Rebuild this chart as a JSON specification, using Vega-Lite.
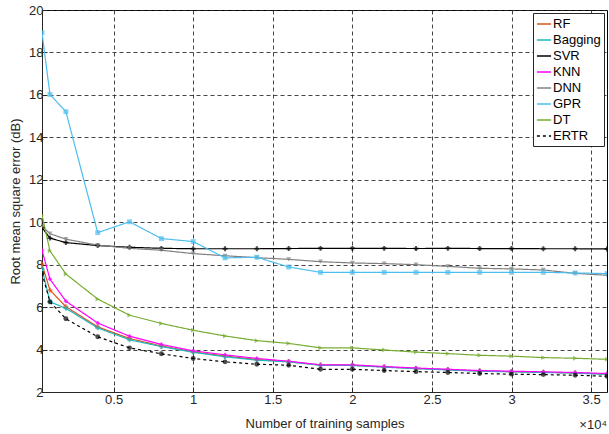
{
  "$schema": "https://vega.github.io/schema/vega-lite/v6.json",
  "width": 565,
  "height": 382,
  "autosize": {"type": "none"},
  "padding": {"left": 42, "top": 10, "right": 2, "bottom": 42},
  "background": "white",
  "config": {
    "font": "Liberation Sans",
    "view": {"stroke": "#000", "strokeWidth": 1},
    "axis": {
      "labelFont": "Liberation Sans",
      "titleFont": "Liberation Sans",
      "labelFontSize": 13,
      "titleFontSize": 13,
      "titleFontWeight": "normal",
      "labelColor": "#262626",
      "titleColor": "#262626",
      "domainColor": "#262626",
      "tickColor": "#262626",
      "tickSize": -5,
      "gridColor": "#262626",
      "gridDash": [4, 3],
      "gridOpacity": 0.85,
      "gridWidth": 1
    }
  },
  "resolve": {"legend": {"shape": "independent"}},
  "datasets": {
    "rmse": [
      {"model": "RF", "n": 500, "v": 8.02}, {"model": "RF", "n": 1000, "v": 6.80}, {"model": "RF", "n": 2000, "v": 6.02}, {"model": "RF", "n": 4000, "v": 5.07}, {"model": "RF", "n": 6000, "v": 4.52}, {"model": "RF", "n": 8000, "v": 4.17}, {"model": "RF", "n": 10000, "v": 3.89}, {"model": "RF", "n": 12000, "v": 3.69}, {"model": "RF", "n": 14000, "v": 3.53}, {"model": "RF", "n": 16000, "v": 3.43}, {"model": "RF", "n": 18000, "v": 3.27}, {"model": "RF", "n": 20000, "v": 3.26}, {"model": "RF", "n": 22000, "v": 3.18}, {"model": "RF", "n": 24000, "v": 3.11}, {"model": "RF", "n": 26000, "v": 3.05}, {"model": "RF", "n": 28000, "v": 2.99}, {"model": "RF", "n": 30000, "v": 2.96}, {"model": "RF", "n": 32000, "v": 2.93}, {"model": "RF", "n": 34000, "v": 2.90}, {"model": "RF", "n": 36000, "v": 2.84},
      {"model": "Bagging", "n": 500, "v": 7.8}, {"model": "Bagging", "n": 1000, "v": 6.25}, {"model": "Bagging", "n": 2000, "v": 5.94}, {"model": "Bagging", "n": 4000, "v": 5.02}, {"model": "Bagging", "n": 6000, "v": 4.46}, {"model": "Bagging", "n": 8000, "v": 4.14}, {"model": "Bagging", "n": 10000, "v": 3.87}, {"model": "Bagging", "n": 12000, "v": 3.66}, {"model": "Bagging", "n": 14000, "v": 3.50}, {"model": "Bagging", "n": 16000, "v": 3.42}, {"model": "Bagging", "n": 18000, "v": 3.26}, {"model": "Bagging", "n": 20000, "v": 3.25}, {"model": "Bagging", "n": 22000, "v": 3.17}, {"model": "Bagging", "n": 24000, "v": 3.10}, {"model": "Bagging", "n": 26000, "v": 3.04}, {"model": "Bagging", "n": 28000, "v": 2.98}, {"model": "Bagging", "n": 30000, "v": 2.95}, {"model": "Bagging", "n": 32000, "v": 2.92}, {"model": "Bagging", "n": 34000, "v": 2.89}, {"model": "Bagging", "n": 36000, "v": 2.83},
      {"model": "SVR", "n": 500, "v": 9.75}, {"model": "SVR", "n": 1000, "v": 9.25}, {"model": "SVR", "n": 2000, "v": 9.04}, {"model": "SVR", "n": 4000, "v": 8.90}, {"model": "SVR", "n": 6000, "v": 8.82}, {"model": "SVR", "n": 8000, "v": 8.77}, {"model": "SVR", "n": 10000, "v": 8.75}, {"model": "SVR", "n": 12000, "v": 8.75}, {"model": "SVR", "n": 14000, "v": 8.75}, {"model": "SVR", "n": 16000, "v": 8.76}, {"model": "SVR", "n": 18000, "v": 8.77}, {"model": "SVR", "n": 20000, "v": 8.77}, {"model": "SVR", "n": 22000, "v": 8.77}, {"model": "SVR", "n": 24000, "v": 8.76}, {"model": "SVR", "n": 26000, "v": 8.77}, {"model": "SVR", "n": 28000, "v": 8.76}, {"model": "SVR", "n": 30000, "v": 8.76}, {"model": "SVR", "n": 32000, "v": 8.75}, {"model": "SVR", "n": 34000, "v": 8.75}, {"model": "SVR", "n": 36000, "v": 8.74},
      {"model": "KNN", "n": 500, "v": 8.68}, {"model": "KNN", "n": 1000, "v": 7.32}, {"model": "KNN", "n": 2000, "v": 6.28}, {"model": "KNN", "n": 4000, "v": 5.25}, {"model": "KNN", "n": 6000, "v": 4.63}, {"model": "KNN", "n": 8000, "v": 4.24}, {"model": "KNN", "n": 10000, "v": 3.94}, {"model": "KNN", "n": 12000, "v": 3.75}, {"model": "KNN", "n": 14000, "v": 3.58}, {"model": "KNN", "n": 16000, "v": 3.45}, {"model": "KNN", "n": 18000, "v": 3.28}, {"model": "KNN", "n": 20000, "v": 3.28}, {"model": "KNN", "n": 22000, "v": 3.20}, {"model": "KNN", "n": 24000, "v": 3.13}, {"model": "KNN", "n": 26000, "v": 3.07}, {"model": "KNN", "n": 28000, "v": 3.01}, {"model": "KNN", "n": 30000, "v": 2.98}, {"model": "KNN", "n": 32000, "v": 2.95}, {"model": "KNN", "n": 34000, "v": 2.92}, {"model": "KNN", "n": 36000, "v": 2.87},
      {"model": "DNN", "n": 500, "v": 9.81}, {"model": "DNN", "n": 1000, "v": 9.46}, {"model": "DNN", "n": 2000, "v": 9.20}, {"model": "DNN", "n": 4000, "v": 8.92}, {"model": "DNN", "n": 6000, "v": 8.77}, {"model": "DNN", "n": 8000, "v": 8.68}, {"model": "DNN", "n": 10000, "v": 8.52}, {"model": "DNN", "n": 12000, "v": 8.42}, {"model": "DNN", "n": 14000, "v": 8.33}, {"model": "DNN", "n": 16000, "v": 8.25}, {"model": "DNN", "n": 18000, "v": 8.14}, {"model": "DNN", "n": 20000, "v": 8.08}, {"model": "DNN", "n": 22000, "v": 8.05}, {"model": "DNN", "n": 24000, "v": 8.00}, {"model": "DNN", "n": 26000, "v": 7.92}, {"model": "DNN", "n": 28000, "v": 7.83}, {"model": "DNN", "n": 30000, "v": 7.80}, {"model": "DNN", "n": 32000, "v": 7.75}, {"model": "DNN", "n": 34000, "v": 7.59}, {"model": "DNN", "n": 36000, "v": 7.50},
      {"model": "GPR", "n": 500, "v": 18.93}, {"model": "GPR", "n": 1000, "v": 16.02}, {"model": "GPR", "n": 2000, "v": 15.21}, {"model": "GPR", "n": 4000, "v": 9.51}, {"model": "GPR", "n": 6000, "v": 10.02}, {"model": "GPR", "n": 8000, "v": 9.23}, {"model": "GPR", "n": 10000, "v": 9.09}, {"model": "GPR", "n": 12000, "v": 8.32}, {"model": "GPR", "n": 14000, "v": 8.35}, {"model": "GPR", "n": 16000, "v": 7.89}, {"model": "GPR", "n": 18000, "v": 7.64}, {"model": "GPR", "n": 20000, "v": 7.64}, {"model": "GPR", "n": 22000, "v": 7.64}, {"model": "GPR", "n": 24000, "v": 7.64}, {"model": "GPR", "n": 26000, "v": 7.64}, {"model": "GPR", "n": 28000, "v": 7.64}, {"model": "GPR", "n": 30000, "v": 7.64}, {"model": "GPR", "n": 32000, "v": 7.64}, {"model": "GPR", "n": 34000, "v": 7.61}, {"model": "GPR", "n": 36000, "v": 7.58},
      {"model": "DT", "n": 500, "v": 10.33}, {"model": "DT", "n": 1000, "v": 8.65}, {"model": "DT", "n": 2000, "v": 7.56}, {"model": "DT", "n": 4000, "v": 6.38}, {"model": "DT", "n": 6000, "v": 5.62}, {"model": "DT", "n": 8000, "v": 5.23}, {"model": "DT", "n": 10000, "v": 4.91}, {"model": "DT", "n": 12000, "v": 4.64}, {"model": "DT", "n": 14000, "v": 4.42}, {"model": "DT", "n": 16000, "v": 4.29}, {"model": "DT", "n": 18000, "v": 4.08}, {"model": "DT", "n": 20000, "v": 4.08}, {"model": "DT", "n": 22000, "v": 3.98}, {"model": "DT", "n": 24000, "v": 3.88}, {"model": "DT", "n": 26000, "v": 3.81}, {"model": "DT", "n": 28000, "v": 3.73}, {"model": "DT", "n": 30000, "v": 3.69}, {"model": "DT", "n": 32000, "v": 3.62}, {"model": "DT", "n": 34000, "v": 3.59}, {"model": "DT", "n": 36000, "v": 3.54},
      {"model": "ERTR", "n": 500, "v": 7.6}, {"model": "ERTR", "n": 1000, "v": 6.25}, {"model": "ERTR", "n": 2000, "v": 5.45}, {"model": "ERTR", "n": 4000, "v": 4.60}, {"model": "ERTR", "n": 6000, "v": 4.08}, {"model": "ERTR", "n": 8000, "v": 3.80}, {"model": "ERTR", "n": 10000, "v": 3.58}, {"model": "ERTR", "n": 12000, "v": 3.42}, {"model": "ERTR", "n": 14000, "v": 3.31}, {"model": "ERTR", "n": 16000, "v": 3.26}, {"model": "ERTR", "n": 18000, "v": 3.07}, {"model": "ERTR", "n": 20000, "v": 3.07}, {"model": "ERTR", "n": 22000, "v": 3.01}, {"model": "ERTR", "n": 24000, "v": 2.96}, {"model": "ERTR", "n": 26000, "v": 2.92}, {"model": "ERTR", "n": 28000, "v": 2.87}, {"model": "ERTR", "n": 30000, "v": 2.84}, {"model": "ERTR", "n": 32000, "v": 2.82}, {"model": "ERTR", "n": 34000, "v": 2.79}, {"model": "ERTR", "n": 36000, "v": 2.74}
    ]
  },
  "layer": [
    {
      "data": {"name": "rmse"},
      "mark": {"type": "line", "strokeWidth": 1.2, "clip": true},
      "encoding": {
        "x": {"field": "n", "type": "quantitative", "scale": {"domain": [500, 36000], "nice": false, "zero": false},
          "axis": {"title": "Number of training samples", "values": [5000, 10000, 15000, 20000, 25000, 30000, 35000], "labelExpr": "datum.value / 10000", "grid": true, "titlePadding": 11, "labelPadding": 6}},
        "y": {"field": "v", "type": "quantitative", "scale": {"domain": [2, 20], "nice": false, "zero": false},
          "axis": {"title": "Root mean square error (dB)", "values": [2, 4, 6, 8, 10, 12, 14, 16, 18, 20], "grid": true, "titlePadding": 6, "labelPadding": 4}},
        "color": {"field": "model", "type": "nominal",
          "scale": {"domain": ["RF", "Bagging", "SVR", "KNN", "DNN", "GPR", "DT", "ERTR"],
                    "range": ["#D95319", "#1CB8C0", "#000000", "#FF00FF", "#808080", "#4DBEEE", "#77AC30", "#000000"]},
          "legend": {"title": null, "orient": "top-right", "offset": 3, "fillColor": "white", "strokeColor": "#262626", "padding": 3,
                     "symbolType": "stroke", "symbolSize": 200, "symbolStrokeWidth": 1.3, "labelFontSize": 13, "labelFont": "Liberation Sans", "labelColor": "#000", "rowPadding": 1, "labelOffset": 1}},
        "strokeDash": {"field": "model", "type": "nominal",
          "scale": {"domain": ["RF", "Bagging", "SVR", "KNN", "DNN", "GPR", "DT", "ERTR"],
                    "range": [[1, 0], [1, 0], [1, 0], [1, 0], [1, 0], [1, 0], [1, 0], [3, 3]]}}
      }
    },
    {
      "data": {"name": "rmse"},
      "mark": {"type": "point", "filled": true, "size": 24, "clip": true},
      "encoding": {
        "x": {"field": "n", "type": "quantitative"},
        "y": {"field": "v", "type": "quantitative"},
        "color": {"field": "model", "type": "nominal", "legend": null},
        "shape": {"field": "model", "type": "nominal", "legend": null,
          "scale": {"domain": ["RF", "Bagging", "SVR", "KNN", "DNN", "GPR", "DT", "ERTR"],
                    "range": ["cross", "cross", "cross", "diamond", "triangle-down", "square", "triangle-right", "circle"]}}
      }
    },
    {
      "data": {"values": [{"t": "×10⁴"}]},
      "mark": {"type": "text", "fontSize": 13, "font": "Liberation Sans", "color": "#262626", "align": "right", "dy": 33, "dx": 0},
      "encoding": {
        "x": {"datum": 36000, "type": "quantitative"},
        "y": {"datum": 2, "type": "quantitative"},
        "text": {"field": "t"}
      }
    }
  ]
}
